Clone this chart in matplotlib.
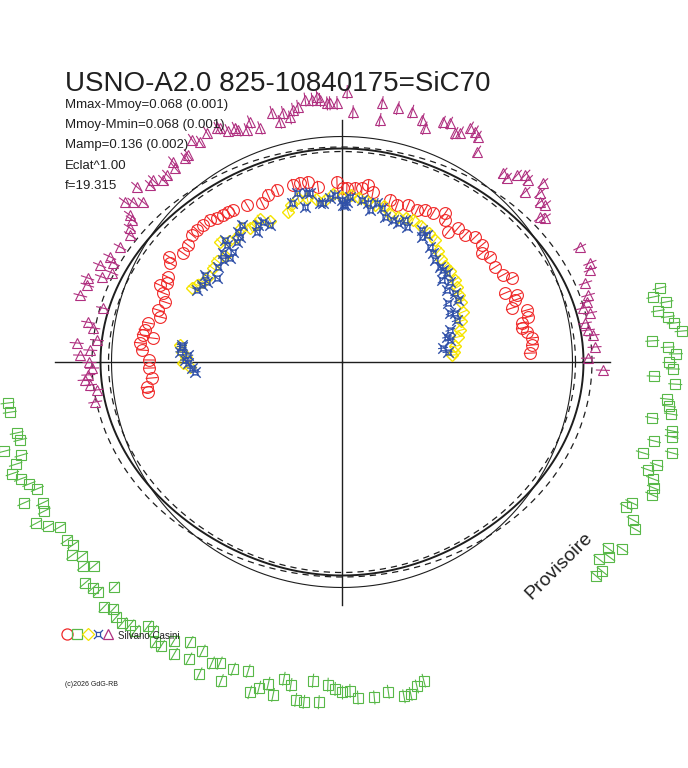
import numpy as np
import matplotlib
matplotlib.use("Agg")
import matplotlib.pyplot as plt
from matplotlib.path import Path

plt.rcParams['font.family'] = ['Liberation Sans', 'DejaVu Sans']

# polar light curve: (angle in degrees, radius) for each observer series
red_pts = [(179.4, 193), (176.6, 200), (174.6, 203), (170.8, 200), (168.6, 198), (172.8, 191),
           (172.3, 201), (166.1, 187), (164.2, 191), (161.3, 187), (158.9, 192), (157.1, 198),
           (155.7, 192), (154.0, 194), (150.1, 198), (148.7, 202), (145.6, 193), (142.8, 193),
           (139.7, 197), (137.7, 196), (135.4, 195), (132.9, 194), (130.9, 191), (129.0, 189),
           (127.2, 188), (125.6, 187), (121.2, 183), (116.7, 178), (113.9, 183), (110.7, 184),
           (105.5, 184), (103.2, 184), (100.7, 183), (97.8, 177), (91.6, 180), (89.7, 174),
           (88.4, 174), (85.7, 174), (83.4, 175), (81.6, 179), (79.7, 173), (73.5, 169),
           (70.7, 166), (67.2, 170), (63.7, 169), (61.4, 173), (58.6, 175), (55.3, 181),
           (54.0, 175), (50.8, 168), (49.1, 177), (45.9, 177), (43.2, 183), (39.9, 182),
           (37.9, 177), (35.4, 181), (31.8, 180), (28.4, 183), (26.3, 190), (22.9, 177),
           (21.0, 187), (19.7, 184), (17.6, 178), (15.7, 192), (13.6, 191), (12.2, 184),
           (10.7, 183), (9.2, 187), (7.2, 192), (5.1, 191), (2.7, 188), (181.8, 193),
           (184.8, 191), (187.3, 197), (188.8, 196)]

yellow_pts = [(176.4, 160), (180.4, 159), (178.0, 156), (174.0, 163), (182.0, 152),
              (153.7, 167), (152.0, 164), (150.0, 161), (147.0, 158), (144.0, 160), (141.0, 161),
              (138.0, 158), (135.5, 171), (133.0, 165), (130.0, 163), (127.0, 168), (124.5, 163),
              (122.4, 162), (120.0, 165), (117.0, 158), (109.8, 159), (108.0, 165), (105.0, 170),
              (102.0, 168), (99.0, 165), (96.0, 163), (93.0, 168), (90.0, 165), (87.0, 167),
              (84.0, 165), (81.0, 163), (78.0, 160), (75.0, 161), (72.0, 156), (69.0, 155),
              (66.0, 158), (63.4, 159), (60.0, 157), (56.0, 155), (52.7, 153), (49.0, 147),
              (46.0, 143), (43.0, 141), (40.0, 141), (36.0, 140), (33.0, 137), (30.0, 135),
              (27.0, 133), (22.5, 131), (19.0, 126), (15.0, 122), (12.2, 119), (8.0, 114),
              (5.0, 112), (3.6, 110)]

blue_pts = [(174.6, 161), (176.5, 162), (179.3, 157), (180.4, 154), (182.3, 150), (173.9, 161),
            (177.4, 154), (183.9, 147), (153.6, 162), (151.2, 160), (149.4, 157), (147.6, 162),
            (146.1, 151), (142.5, 156), (139.4, 157), (137.1, 153), (137.5, 161), (134.7, 155),
            (134.5, 164), (133.8, 169), (131.2, 159), (129.2, 161), (128.7, 166), (126.1, 170),
            (123.2, 155), (121.5, 161), (119.4, 161), (117.7, 155), (107.5, 167), (104.9, 175),
            (101.7, 173), (100.7, 172), (103.4, 159), (97.9, 161), (96.8, 160), (94.2, 164),
            (92.4, 167), (90.0, 162), (89.6, 157), (88.2, 160), (88.9, 157), (87.2, 165),
            (83.0, 163), (80.7, 161), (79.6, 155), (77.6, 163), (75.4, 159), (73.5, 151),
            (70.2, 151), (68.1, 150), (66.1, 155), (64.3, 150), (58.8, 154), (57.4, 148),
            (56.2, 153), (52.6, 145), (50.1, 142), (47.6, 138), (44.1, 136), (42.3, 137),
            (40.3, 138), (39.4, 129), (36.5, 134), (34.4, 127), (31.4, 132), (28.1, 132),
            (29.1, 121), (23.4, 123), (24.4, 119), (20.1, 122), (16.5, 113), (13.4, 108),
            (11.5, 110), (7.9, 102), (5.4, 106)]

magenta_pts = [(139.5, 270), (137.3, 261), (136.1, 262), (134.5, 255), (133.1, 256), (130.7, 256),
               (130.2, 262), (127.6, 257), (126.6, 258), (124.0, 268), (122.8, 262), (120.5, 266),
               (118.1, 265), (117.5, 264), (116.2, 258), (114.6, 257), (114.1, 254), (112.3, 251),
               (111.0, 257), (109.3, 248), (105.7, 259), (104.5, 248), (103.3, 256), (102.0, 250),
               (101.0, 257), (99.8, 259), (98.0, 265), (96.5, 264), (95.4, 266), (94.8, 263),
               (93.3, 259), (92.7, 259), (91.1, 259), (88.9, 270), (87.5, 250), (81.2, 262),
               (77.6, 260), (74.4, 260), (81.1, 245), (71.7, 255), (70.5, 248), (67.2, 260),
               (65.7, 262), (63.7, 255), (62.7, 258), (61.3, 267), (60.0, 266), (58.9, 263),
               (57.3, 250), (49.6, 248), (48.1, 247), (46.9, 256), (45.6, 262), (44.4, 260),
               (42.9, 250), (41.7, 269), (40.5, 260), (38.9, 255), (37.7, 257), (36.2, 245),
               (35.4, 249), (25.8, 264), (21.8, 267), (20.4, 265), (18.0, 256), (15.2, 255),
               (13.8, 252), (12.6, 247), (11.2, 253), (9.1, 246), (7.4, 248), (6.1, 252),
               (3.4, 253), (0.9, 246), (-1.8, 261), (143.6, 270), (142.6, 263), (141.2, 255),
               (145.3, 258), (145.9, 254), (147.7, 251), (149.1, 247), (152.6, 250), (155.6, 255),
               (156.6, 249), (158.2, 261), (158.8, 247), (160.5, 255), (161.7, 268), (163.2, 266),
               (165.7, 270), (167.3, 245), (171.1, 257), (172.2, 251), (175.9, 266), (174.9, 246),
               (177.3, 252), (178.5, 262), (180.0, 253), (181.4, 250), (182.9, 254), (184.0, 258),
               (185.2, 253), (186.5, 247), (189.2, 250)]

green_pts = [(13.1, 326), (11.8, 318), (10.5, 330), (9.2, 320), (7.9, 329), (6.7, 334), (5.2, 341),
             (3.9, 311), (2.6, 326), (1.4, 334), (0.0, 327), (-1.2, 331), (-2.6, 312), (-3.8, 334),
             (-6.5, 327), (-7.7, 330), (-9.0, 333), (-10.2, 315), (-11.8, 337), (-12.8, 338),
             (-14.2, 322), (-16.8, 314), (-15.4, 342), (-18.1, 331), (-19.4, 324), (-20.6, 332),
             (-22.0, 336), (-23.2, 337), (-25.9, 322), (-27.0, 319), (-28.5, 331), (-29.7, 337),
             (-33.7, 337), (-35.0, 325), (-36.1, 331), (-37.5, 324), (-38.8, 334), (-40.1, 332),
             (-75.6, 329), (-77.0, 333), (-78.3, 339), (-79.5, 340), (-82.0, 333), (-84.5, 337),
             (-87.3, 336), (-88.6, 329), (-90.0, 330), (-91.2, 327), (-92.5, 323), (-93.9, 341),
             (-95.2, 320), (-96.4, 342), (-97.8, 341), (-99.0, 327), (-100.4, 322), (-101.7, 340),
             (-102.9, 330), (-104.3, 336), (-105.6, 343), (-106.9, 323), (-110.8, 341),
             (-109.5, 326), (-112.1, 325), (-113.4, 328), (-114.6, 343), (-115.8, 321),
             (-117.3, 334), (-118.5, 319), (-119.9, 337), (-121.1, 326), (-122.5, 337),
             (-123.7, 337), (-125.1, 329), (-126.3, 328), (-127.6, 339), (-128.9, 338),
             (-130.1, 341), (-131.5, 341), (-132.8, 337), (-134.2, 342), (-135.4, 320),
             (-136.7, 335), (-137.8, 336), (-139.3, 339), (-140.6, 321), (-141.8, 330),
             (-143.3, 324), (-144.4, 332), (-145.8, 325), (-147.1, 328), (-149.7, 327),
             (-150.8, 337), (-152.2, 346), (-153.4, 333), (-154.8, 331), (-156.1, 348),
             (-157.4, 330), (-158.7, 336), (-160.0, 342), (-161.3, 348), (-162.6, 342),
             (-163.8, 334), (-165.2, 350), (-166.4, 331), (-167.7, 333), (-171.4, 336),
             (-173.0, 337)]

# fitted mean curves: r = c0 + c2*cos(2t) + c4*cos(4t)
fit_mean = [225.0, 14.0, 2.5]
fit_low = [220.5, 11.5, 1.5]
fit_high = [231.5, 17.5, 1.0]
fit_ref = [228.0, 2.5, 0.0]

# lengths of the cross arms (right, top, left, bottom)
cross_len = [268, 242, 287, 243]

title = "USNO-A2.0 825-10840175=SiC70"
info_lines = ["Mmax-Mmoy=0.068 (0.001)", "Mmoy-Mmin=0.068 (0.001)",
              "Mamp=0.136 (0.002)", "Eclat^1.00", "f=19.315"]
observer = "Silvano Casini"

c_red = '#f02828'
c_yellow = '#f5e400'
c_blue = '#3050a8'
c_magenta = '#b03080'
c_green = '#58b848'
c_line = '#1e1e1e'

# blue symbol: small square with diagonal spikes
star_path = Path([(-0.45, -0.45), (0.45, -0.45), (0.45, 0.45), (-0.45, 0.45), (-0.45, -0.45),
                  (-1, -1), (-0.45, -0.45), (1, -1), (0.45, -0.45), (1, 1), (0.45, 0.45),
                  (-1, 1), (-0.45, 0.45)],
                 [Path.MOVETO, Path.LINETO, Path.LINETO, Path.LINETO, Path.LINETO,
                  Path.MOVETO, Path.LINETO, Path.MOVETO, Path.LINETO, Path.MOVETO, Path.LINETO,
                  Path.MOVETO, Path.LINETO])

W, H = 688, 768
cx, cy = 342, 362
R = 360
fig = plt.figure(figsize=(W / 100, H / 100), dpi=100)
ax = fig.add_axes([(cx - R) / W, (H - cy - R) / H, 2 * R / W, 2 * R / H], projection='polar')
ax.set_rlim(0, R)
ax.axis('off')

# cross
for k, L in enumerate(cross_len):
    a = k * np.pi / 2
    ax.plot([a, a], [0, L], color=c_line, lw=1.0, zorder=2)

t = np.linspace(0, 2 * np.pi, 721)
def fit_curve(c):
    return c[0] + c[1] * np.cos(2 * t) + c[2] * np.cos(4 * t)

ax.plot(t, fit_curve(fit_ref), color=c_line, lw=0.8, zorder=2)
ax.plot(t, fit_curve(fit_mean), color=c_line, lw=1.4, zorder=2)
ax.plot(t, fit_curve(fit_low), color=c_line, lw=0.9, ls=(0, (5, 4)), zorder=2)
ax.plot(t, fit_curve(fit_high), color=c_line, lw=0.9, ls=(0, (5, 4)), zorder=2)

def series(pts, marker, color, ms, err, z, mew=0.8):
    a = np.radians([p[0] for p in pts])
    r = np.array([p[1] for p in pts])
    ax.errorbar(a, r, yerr=err, fmt='none', ecolor=color, elinewidth=0.8, capsize=0,
                zorder=z, clip_on=False)
    ax.plot(a, r, ls='none', marker=marker, ms=ms, mfc='none', mec=color, mew=mew,
            zorder=z, clip_on=False)

series(green_pts, 's', c_green, 7, 7, 3)
series(magenta_pts, '^', c_magenta, 7.5, 7, 3)
series(red_pts, 'o', c_red, 8.5, 6, 3)
series(yellow_pts, 'D', c_yellow, 6.5, 5, 4, mew=1.0)
series(blue_pts, star_path, c_blue, 7.5, 5, 5, mew=1.0)

# overlay in pixel coordinates for texts and legend
ov = fig.add_axes([0, 0, 1, 1])
ov.set_xlim(0, W)
ov.set_ylim(H, 0)
ov.axis('off')

ov.text(65, 91, title, fontsize=20, color='#202020', va='baseline', ha='left')
for i, s in enumerate(info_lines):
    ov.text(65, 108 + i * 20.2, s, fontsize=9.5, color='#202020', va='baseline', ha='left')

leg = [('o', c_red, 8), ('s', c_green, 6.5), ('D', c_yellow, 6), (star_path, c_blue, 6.5),
       ('^', c_magenta, 7.5)]
for i, (m, c, s) in enumerate(leg):
    ov.plot(67 + i * 10.3, 634, marker=m, ms=s, mfc='none', mec=c, mew=0.9, ls='none')
ov.text(118, 639, observer, fontsize=7, color='#202020', va='baseline', ha='left')
ov.text(65, 686, "(c)2026 GdG-RB", fontsize=5, color='#202020', va='baseline', ha='left')
ov.text(559, 566, "Provisoire", fontsize=14, color='#202020', rotation=45,
        ha='center', va='center', rotation_mode='anchor')

fig.savefig('out.png', dpi=100, facecolor='white')
